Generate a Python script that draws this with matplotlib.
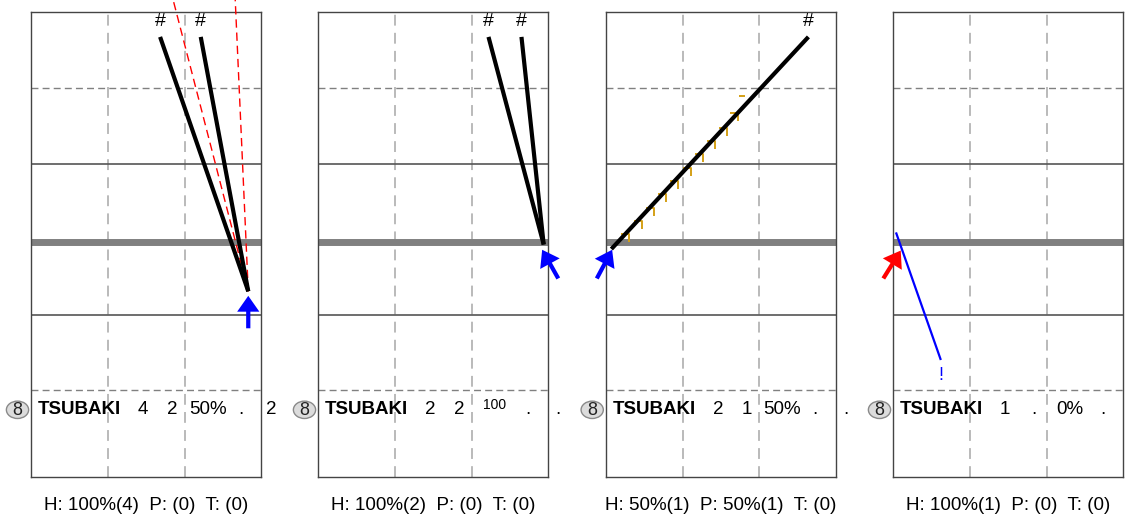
import matplotlib.pyplot as plt
from matplotlib.patches import Ellipse
from matplotlib.path import Path

plt.rcParams['font.family'] = ['Liberation Sans', 'DejaVu Sans']

# datos de cada panel
dorsal = "8"
nombre = "TSUBAKI"
columnas = [["4", "2", "50%", ".", "2"],
            ["2", "2", "100", ".", "."],
            ["2", "1", "50%", ".", "."],
            ["1", ".", "0%", "."]]
pies = ["H: 100%(4)  P: (0)  T: (0)",
        "H: 100%(2)  P: (0)  T: (0)",
        "H: 50%(1)  P: 50%(1)  T: (0)",
        "H: 100%(1)  P: (0)  T: (0)"]

origen_x = [2.83, 2.94, 0.07, 0.035]
origen_y = [2.31, 2.93, 2.87, 3.09]
fin_x = [[1.68, 2.21], [2.22, 2.65], [2.64], [0.62]]
fin_y = [[5.68, 5.68], [5.68, 5.68], [5.68], [1.40]]
marcas = ["#", "#", "#", "!"]
color_linea = ["black", "black", "black", "blue"]

flecha_cola = [(2.83, 1.82), (3.13, 2.48), (-0.12, 2.48), (-0.13, 2.48)]
flecha_punta = [(2.83, 2.25), (2.92, 2.86), (0.08, 2.86), (0.097, 2.85)]
flecha_color = ["blue", "blue", "blue", "red"]

# lineas rojas discontinuas del panel 1
rojas_x = [1.85, 2.66]
rojas_y = [6.17, 6.17]

# marcas amarillas del panel 3
amarillo_x = [0.30, 0.466, 0.626, 0.783, 0.943, 1.105, 1.269, 1.422, 1.582, 1.726]
amarillo_y = [3.065, 3.241, 3.417, 3.594, 3.771, 3.947, 4.124, 4.300, 4.477, 4.667]
guion_x = [1.78]
guion_y = [4.90]

col_pos = [1.46, 1.84, 2.30, 2.73, 3.13]

# marcador en forma de esquina
esquina = Path([(-1, 0), (0, 0), (0, -1)], [Path.MOVETO, Path.LINETO, Path.LINETO])

fig = plt.figure(figsize=(11.25, 5.17), dpi=100)
izquierdas = [31.3, 318.3, 606, 893.3]

for i in range(4):
    ax = fig.add_axes([izquierdas[i] / 1125, 40 / 517, 230 / 1125, 465 / 517])
    ax.set_xlim(0, 3)
    ax.set_ylim(-0.15, 6.01)
    ax.set_xticks([])
    ax.set_yticks([])
    for s in ax.spines.values():
        s.set_color('#444444')
        s.set_linewidth(1.0)

    # cuadricula
    for xv in [1, 2]:
        ax.axvline(xv, color='#b4b4b4', lw=1.3, dashes=(6, 4), zorder=1)
    for yv in [1, 5]:
        ax.axhline(yv, color='#808080', lw=1.0, dashes=(5, 3), zorder=1)
    for yv in [2, 4]:
        ax.axhline(yv, color='#555555', lw=1.2, zorder=1)
    ax.axhline(2.96, color='#808080', lw=5, zorder=2)

    # fila de texto
    ax.add_patch(Ellipse((-0.18, 0.74), 0.29, 0.23, fc='#dcdcdc', ec='#8a8a8a',
                         lw=1, clip_on=False, zorder=3))
    ax.text(-0.18, 0.735, dorsal, ha='center', va='center', fontsize=13,
            color='#222222', zorder=4)
    ax.text(0.09, 0.74, nombre, ha='left', va='center', fontsize=13.5, fontweight='bold')
    for j, t in enumerate(columnas[i]):
        if t == "100":
            ax.text(col_pos[j], 0.80, t, ha='center', va='center', fontsize=10)
        else:
            ax.text(col_pos[j], 0.74, t, ha='center', va='center', fontsize=13.5)

    # lineas de bateo
    if i == 0:
        for rx, ry in zip(rojas_x, rojas_y):
            ax.plot([origen_x[i], rx], [origen_y[i], ry], color='red', lw=1,
                    dashes=(6, 3.5), clip_on=False, zorder=3)
    if i == 2:
        ax.plot(amarillo_x, amarillo_y, ls='none', marker=esquina, ms=12,
                mec='#d4a017', mew=1.4, mfc='none', zorder=3)
        ax.plot(guion_x, guion_y, ls='none', marker='_', ms=5,
                mec='#d4a017', mew=1.4, zorder=3)
    ancho = 3 if color_linea[i] == "black" else 1.6
    for fx, fy in zip(fin_x[i], fin_y[i]):
        ax.plot([origen_x[i], fx], [origen_y[i], fy], color=color_linea[i],
                lw=ancho, solid_capstyle='butt', zorder=4)
        if marcas[i] == "!":
            ax.text(fx, fy - 0.2, marcas[i], ha='center', va='center',
                    fontsize=13, color='blue')
        else:
            ax.text(fx, fy + 0.2, marcas[i], ha='center', va='center', fontsize=14)

    # flecha
    (cx, cy), (px, py) = flecha_cola[i], flecha_punta[i]
    ax.arrow(cx, cy, px - cx, py - cy, width=0.055, head_width=0.29,
             head_length=0.21, length_includes_head=True, color=flecha_color[i],
             lw=0, clip_on=False, zorder=5)

    fig.text((izquierdas[i] + 115) / 1125, 1 - 505 / 517, pies[i],
             ha='center', va='center', fontsize=13.5)

fig.savefig('out.png', dpi=100)
